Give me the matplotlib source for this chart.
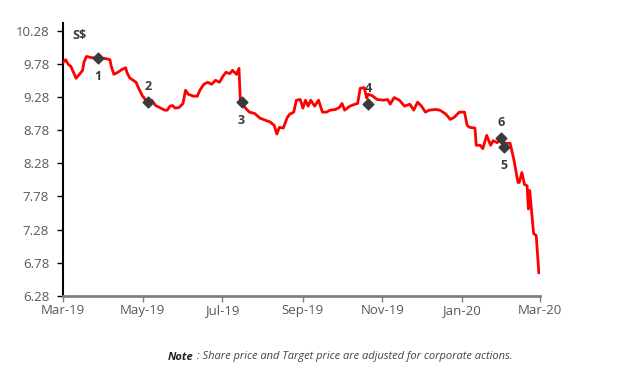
import matplotlib
matplotlib.use("Agg")
import matplotlib.pyplot as plt
import matplotlib.dates as mdates
import pandas as pd

plt.rcParams['font.family'] = ['Open Sans', 'DejaVu Sans']

# share price
price_dates = [
    "2019-03-01", "2019-03-03", "2019-03-05", "2019-03-07", "2019-03-09", "2019-03-11",
    "2019-03-14", "2019-03-16", "2019-03-17", "2019-03-19", "2019-03-23", "2019-03-26",
    "2019-03-29", "2019-04-02", "2019-04-06", "2019-04-07", "2019-04-09", "2019-04-12",
    "2019-04-15", "2019-04-18", "2019-04-19", "2019-04-21", "2019-04-23", "2019-04-26",
    "2019-04-28", "2019-05-01", "2019-05-02", "2019-05-04", "2019-05-06", "2019-05-08",
    "2019-05-11", "2019-05-14", "2019-05-18", "2019-05-20", "2019-05-22", "2019-05-24",
    "2019-05-26", "2019-05-29", "2019-06-01", "2019-06-03", "2019-06-05", "2019-06-09",
    "2019-06-12", "2019-06-14", "2019-06-17", "2019-06-20", "2019-06-23", "2019-06-26",
    "2019-06-29", "2019-07-02", "2019-07-04", "2019-07-07", "2019-07-09", "2019-07-12",
    "2019-07-14", "2019-07-15", "2019-07-19", "2019-07-22", "2019-07-26", "2019-07-30",
    "2019-08-03", "2019-08-07", "2019-08-10", "2019-08-12", "2019-08-14", "2019-08-17",
    "2019-08-20", "2019-08-22", "2019-08-25", "2019-08-27", "2019-08-30", "2019-09-01",
    "2019-09-03", "2019-09-05", "2019-09-07", "2019-09-10", "2019-09-13", "2019-09-16",
    "2019-09-19", "2019-09-22", "2019-09-26", "2019-09-29", "2019-10-01", "2019-10-03",
    "2019-10-07", "2019-10-11", "2019-10-13", "2019-10-15", "2019-10-18", "2019-10-20",
    "2019-10-21", "2019-10-24", "2019-10-28", "2019-11-02", "2019-11-05", "2019-11-07",
    "2019-11-10", "2019-11-14", "2019-11-18", "2019-11-22", "2019-11-25", "2019-11-28",
    "2019-12-01", "2019-12-04", "2019-12-07", "2019-12-12", "2019-12-15", "2019-12-19",
    "2019-12-21", "2019-12-23", "2019-12-26", "2019-12-30", "2020-01-03", "2020-01-05",
    "2020-01-07", "2020-01-11", "2020-01-12", "2020-01-15", "2020-01-17", "2020-01-20",
    "2020-01-23", "2020-01-25", "2020-01-28", "2020-01-31", "2020-02-03", "2020-02-07",
    "2020-02-10", "2020-02-13", "2020-02-14", "2020-02-16", "2020-02-18", "2020-02-20",
    "2020-02-21", "2020-02-22", "2020-02-23", "2020-02-25", "2020-02-27", "2020-02-29",
]
price_values = [
    9.80, 9.84, 9.77, 9.74, 9.65, 9.56,
    9.63, 9.68, 9.80, 9.89, 9.87, 9.87,
    9.86, 9.86, 9.84, 9.74, 9.62, 9.65,
    9.69, 9.72, 9.65, 9.57, 9.54, 9.50,
    9.41, 9.29, 9.27, 9.21, 9.18, 9.23,
    9.15, 9.12, 9.08, 9.08, 9.14, 9.15,
    9.11, 9.12, 9.18, 9.38, 9.32, 9.29,
    9.29, 9.38, 9.47, 9.50, 9.47, 9.53,
    9.50, 9.60, 9.65, 9.63, 9.68, 9.62,
    9.71, 9.20, 9.11, 9.05, 9.03, 8.96,
    8.93, 8.90, 8.85, 8.72, 8.82, 8.81,
    8.97, 9.02, 9.05, 9.23, 9.24, 9.11,
    9.23, 9.14, 9.23, 9.14, 9.23, 9.05,
    9.05, 9.08, 9.09, 9.12, 9.18, 9.08,
    9.14, 9.17, 9.18, 9.41, 9.42, 9.26,
    9.32, 9.30, 9.24, 9.23, 9.24, 9.17,
    9.27, 9.23, 9.14, 9.17, 9.08, 9.20,
    9.14, 9.05, 9.08, 9.09, 9.08, 9.03,
    8.99, 8.94, 8.97, 9.05, 9.05, 8.85,
    8.82, 8.81, 8.55, 8.55, 8.50, 8.70,
    8.55, 8.62, 8.59, 8.64, 8.58, 8.58,
    8.32, 7.99, 7.99, 8.14, 7.96, 7.94,
    7.59, 7.87, 7.65, 7.22, 7.19, 6.63,
]

# target price markers
tp_labels = ["1", "2", "3", "4", "5", "6"]
tp_dates = ["2019-03-28", "2019-05-05", "2019-07-16", "2019-10-21", "2020-02-02", "2020-01-31"]
tp_values = [9.86, 9.21, 9.20, 9.18, 8.52, 8.66]
tp_label_pos = ["below", "above", "below", "above", "below", "above"]

y_ticks = [6.28, 6.78, 7.28, 7.78, 8.28, 8.78, 9.28, 9.78, 10.28]
x_ticks = ["2019-03-01", "2019-05-01", "2019-07-01", "2019-09-01",
           "2019-11-01", "2020-01-01", "2020-03-01"]

note_head = "Note"
note_body = " : Share price and Target price are adjusted for corporate actions."

px = pd.to_datetime(price_dates)
tx = pd.to_datetime(tp_dates)

fig = plt.figure(figsize=(6.18, 3.76), dpi=100)
ax = fig.add_axes([0.102, 0.213, 0.772, 0.727])

ax.plot(px, price_values, color="#ff0000", lw=2, zorder=3)

# target price step between 6 and 5
ax.plot([tx[5], tx[4]], [tp_values[5], tp_values[4]], color="#000080", lw=1.2, zorder=4)
ax.scatter(tx, tp_values, marker="D", s=30, color="#3a3a3a", zorder=5)
for lab, d, v, pos in zip(tp_labels, tx, tp_values, tp_label_pos):
    dy = -13 if pos == "below" else 11
    ax.annotate(lab, (d, v), xytext=(0, dy), textcoords="offset points",
                ha="center", va="center", fontsize=9, fontweight="bold",
                color="#3a3a3a", zorder=6)

ax.set_xlim(pd.Timestamp("2019-03-01"), pd.Timestamp("2020-03-01"))
ax.set_ylim(6.28, 10.40)
ax.set_yticks(y_ticks)
ax.set_yticklabels([f"{t:.2f}" for t in y_ticks])
ax.set_xticks(pd.to_datetime(x_ticks))
ax.xaxis.set_major_formatter(mdates.DateFormatter("%b-%y"))

for s in ["top", "right"]:
    ax.spines[s].set_visible(False)
ax.spines["left"].set_color("black")
ax.spines["left"].set_linewidth(1.5)
ax.spines["bottom"].set_color("#808080")
ax.spines["bottom"].set_linewidth(2)
ax.tick_params(axis="y", colors="black", labelcolor="#595959", labelsize=9.5,
               length=4, width=1, direction="out", pad=6)
ax.tick_params(axis="x", colors="#808080", labelcolor="#595959", labelsize=9.5,
               length=4, width=1, direction="out", pad=2)

ax.text(0.02, 0.975, "S$", transform=ax.transAxes, fontsize=9, fontweight="bold",
        color="#3a3a3a", ha="left", va="top")

t1 = fig.text(168 / 618, 1 - 357 / 376, note_head, fontsize=8, fontweight="bold",
              fontstyle="italic", color="#222222", va="center", ha="left")
ax.annotate(note_body, xy=(1, 0.5), xycoords=t1, va="center", ha="left", fontsize=8,
            fontstyle="italic", color="#444444", annotation_clip=False)

fig.savefig("out.png", dpi=100)
